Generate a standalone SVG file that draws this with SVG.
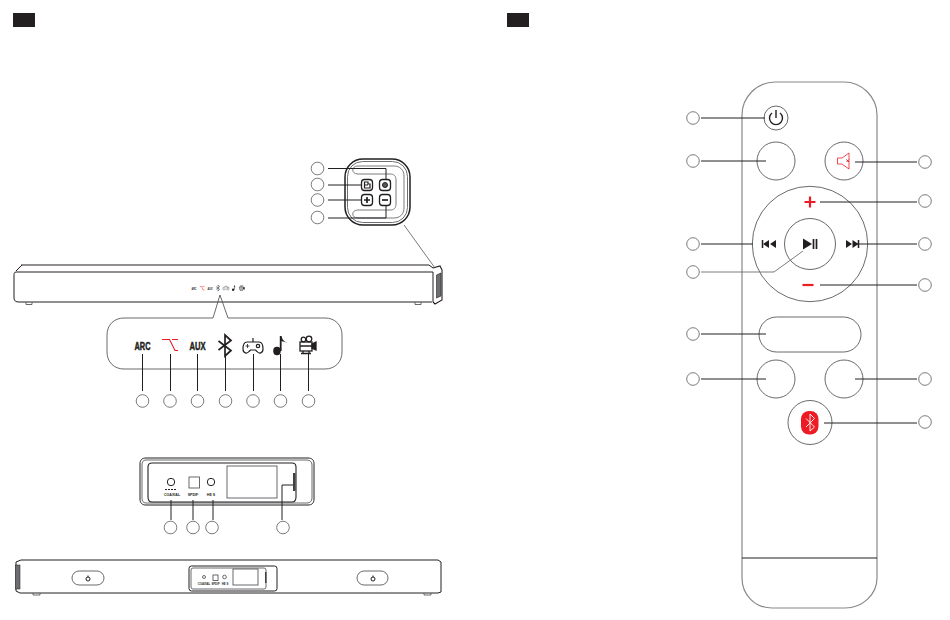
<svg xmlns="http://www.w3.org/2000/svg" xmlns:xlink="http://www.w3.org/1999/xlink" width="950" height="620" viewBox="0 0 950 620">
<style>
.o{fill:none;stroke:#58595b;stroke-width:.9}
.g{fill:none;stroke:#888;stroke-width:1.2}
.k{fill:none;stroke:#231f20;stroke-width:1}
.kk{fill:none;stroke:#231f20;stroke-width:1.1}
.w{fill:#fff;stroke:#231f20;stroke-width:1.3}
.c{fill:#fff;stroke:#58595b;stroke-width:.8}
.l{fill:none;stroke:#231f20;stroke-width:1}
.r{fill:none;stroke:#ed1c24;stroke-width:1.1}
.t{font-family:"Liberation Sans",Arial,sans-serif;font-weight:700;fill:#231f20;text-anchor:middle}
.h{stroke:#231f20;stroke-width:.5}
</style>
<defs>
<path id="bt" d="M-6.500-4.500 6 5 0 10.500V-10.500L6-5-6.500 4.500" fill="none" stroke="#231f20" stroke-width="1.700"/>
<g id="game" fill="none" stroke="#231f20" stroke-width="1.200"><path d="M0-4V-8M-6-4H6C9.500-4 10-.5 10 3 10 7.500 6 8 4 5.500L2.500 4H-2.500L-4 5.500C-6 8-10 7.500-10 3-10-.5-9.500-4-6-4Z"/><path d="M-7.500 0H-3.500M-5.500-2V2" stroke-width=".8"/><circle cx="5" cy="0" r="1.700"/></g>
<g id="note" fill="#231f20"><ellipse cx="-3" cy="6" rx="3.800" ry="4.200"/><path d="M-.2 6V-9H1.600C2.200-5 4-4 7.500-2 5-3 3-3.500 1.600-4V6Z"/></g>
<g id="cam" fill="none" stroke="#231f20" stroke-width="1.300"><circle cx="-4.500" cy="-5.500" r="2.300"/><circle cx="1" cy="-6" r="2.800"/><rect x="-8" y="-3" width="12" height="9"/><path d="M-8 1H4M-5 6V8.500M1 6V8.500M-7 8.500H3"/><path d="M4-1 8-3V5L4 3Z" fill="#231f20"/></g>
</defs>
<rect width="950" height="620" fill="#fff"/>
<rect id="tag-left" x="13" y="13" width="22" height="14" fill="#231f20"/>
<rect id="tag-right" x="507" y="13" width="22" height="14" fill="#231f20"/>

<g id="soundbar-front">
<path class="k" d="M16 272C14 272 14 274 14 276V298C14 301 16 302 19 302H432M22 265 16 271M21 265H429L433 268M16 272H433V302" stroke-width=".9"/>
<path class="o" d="M26 302v2.500h6V302M415 302v2.500h6V302"/>
<path class="kk" d="M433 268 440 266 442 270V300L435 304 433 302"/>
<path d="M436.500 275 441 273V296L436.500 298Z" fill="#6d6e71" stroke="#231f20" stroke-width=".6"/>
<text class="t" x="194" y="289.500" font-size="3.500" textLength="5" lengthAdjust="spacingAndGlyphs">ARC</text>
<path d="M199.800 286.500H201.500L203 290H204.500M202.500 286.500H204.500" fill="none" stroke="#ed1c24" stroke-width=".5"/>
<text class="t" x="210" y="289.500" font-size="3.500" textLength="5" lengthAdjust="spacingAndGlyphs">AUX</text>
<use xlink:href="#bt" transform="translate(218 288) scale(.28)"/>
<use xlink:href="#game" transform="translate(226 288) scale(.3)"/>
<use xlink:href="#note" transform="translate(234 288) scale(.3)"/>
<use xlink:href="#cam" transform="translate(242 288) scale(.3)"/>
</g>

<g id="side-panel">
<rect x="345" y="159" width="65" height="66" rx="18" fill="#fff" stroke="#231f20" stroke-width="1.500"/>
<rect x="347.500" y="161.500" width="60" height="61" rx="15" fill="none" stroke="#6d6e71" stroke-width="1"/>
<path d="M358 166H394C400 166 404 170 404 176V208C404 214 400 218 394 218H358C351 218 351 210 358 210H390C394 210 396 208 396 204V180C396 176 394 174 390 174H358C351 174 351 166 358 166Z" fill="none" stroke="#6d6e71" stroke-width=".9"/>
</g>
<g id="btn-source"><rect class="w" x="361.500" y="179.500" width="11" height="11" rx="3"/><path d="M364.500 182H368V184H370V188H364.500ZM364.500 185H368" fill="none" stroke="#231f20" stroke-width="1.200"/></g>
<g id="btn-power"><rect class="w" x="379.500" y="179.500" width="11" height="11" rx="3"/><circle cx="385" cy="185" r="2.500" fill="#58595b" stroke="#231f20"/></g>
<g id="btn-plus"><rect class="w" x="361.500" y="194.500" width="11" height="11" rx="3"/><path d="M364 200H370M367 197V203" stroke="#231f20" stroke-width="1.700"/></g>
<g id="btn-minus"><rect class="w" x="379.500" y="194.500" width="11" height="11" rx="3"/><path d="M382 200H388" stroke="#231f20" stroke-width="1.700"/></g>

<g id="indicator-panel">
<path class="o" d="M213 318H124C114 318 107 325 107 335V352C107 362 114 369 124 369H325C335 369 342 362 342 352V335C342 325 335 318 325 318H228L220 295Z"/>
<text class="t h" x="142.500" y="350" font-size="11" textLength="16" lengthAdjust="spacingAndGlyphs">ARC</text>
<path class="r" d="M162 339.500H169.500L175 350.500H178M172 339.500H178"/>
<text class="t h" x="197.500" y="350" font-size="11" textLength="16" lengthAdjust="spacingAndGlyphs">AUX</text>
<use xlink:href="#bt" transform="translate(225 345.500) scale(1)"/>
<use xlink:href="#game" transform="translate(253 346)"/>
<use xlink:href="#note" transform="translate(280 345)"/>
<use xlink:href="#cam" transform="translate(308 345)"/>
</g>

<g id="rear-detail">
<path class="k" d="M146 458H308C312 458 314 460 314 464V499C314 503 312 505 308 505H146C142 505 140 503 140 499V464C140 460 142 458 146 458Z"/>
<path class="o" d="M146 460H307C310 460 312 462 312 465V498C312 501 310 503 307 503H146C143 503 142 501 142 498V465C142 462 143 460 146 460Z"/>
<path class="kk" d="M152 463H292C295 463 296 465 296 467V497C296 500 295 502 292 502H152C149 502 148 500 148 497V467C148 465 149 463 152 463Z"/>
<rect class="o" x="227" y="466" width="50" height="32"/>
<circle class="k" cx="171" cy="482" r="3.700"/>
<rect class="o" x="189" y="477" width="10.500" height="11"/>
<circle class="k" cx="211" cy="482" r="3.700"/>
<path d="M165 489.500H177" stroke="#231f20" stroke-dasharray="2 1" stroke-width="1"/>
<text class="t" x="172" y="495.500" font-size="3.600">COAXIAL</text>
<text class="t" x="193" y="495.500" font-size="3.600">SPDIF</text>
<text class="t" x="211" y="495.500" font-size="3.600">HE S</text>
<rect x="293" y="473" width="2.500" height="18" fill="#414042"/>
</g>

<g id="soundbar-rear">
<path class="k" d="M16 562 21 560H438L441 562V592L438 593H20L16 591Z" stroke-width=".9"/>
<rect x="15.500" y="565" width="4.500" height="24" fill="#6d6e71" stroke="#231f20" stroke-width=".5"/>
<path class="o" d="M33 593v2h7v-2M424 593v2h7v-2"/>
<rect class="o" x="72" y="571" width="32" height="14" rx="7"/>
<rect class="o" x="357" y="571" width="31" height="14" rx="7"/>
<circle class="k" cx="88" cy="579" r="2"/><path class="k" d="M88 575.500V577"/>
<circle class="k" cx="373" cy="579" r="2"/><path class="k" d="M373 575.500V577"/>
<rect class="k" x="189" y="566" width="88" height="25" rx="2.500"/>
<rect class="o" x="191" y="568" width="75" height="21" rx="2"/>
<rect class="o" x="233" y="569" width="25" height="16"/>
<circle class="o" cx="204" cy="577" r="1.500"/>
<rect class="o" x="213" y="575" width="5" height="5.500"/>
<circle class="o" cx="224.500" cy="577" r="1.800"/>
<rect x="265" y="572" width="1.500" height="11" fill="#414042"/>
<text class="t" x="204" y="584.500" font-size="2.800">COAXIAL</text>
<text class="t" x="215.500" y="584.500" font-size="2.800">SPDIF</text>
<text class="t" x="225" y="584.500" font-size="2.800">HE S</text>
</g>

<g id="remote">
<path class="g" d="M775 82H844C862 82 877 97 877 115V578C877 595 862 608 845 608H772C755 608 742 595 742 578V115C742 97 757 82 775 82Z"/>
<path d="M742 558H877" stroke="#231f20" stroke-width="1"/>
</g>
<g id="r-power"><circle class="o" cx="776" cy="118" r="12"/><path d="M772 113A6.500 6.500 0 1 0 780 113M776 110V118" fill="none" stroke="#231f20" stroke-width="1.400"/></g>
<g id="r-left-top"><circle class="o" cx="776" cy="161" r="19"/></g>
<g id="r-mute"><circle class="o" cx="844" cy="161" r="19"/><path d="M837.500 158H842L849 153V169L842 164H837.500Z" fill="none" stroke="#ed1c24" stroke-width=".8"/><path d="M846.500 159.500 849 162M849 159.500 846.500 162" stroke="#ed1c24" stroke-width="1"/></g>
<g id="r-wheel"><circle class="o" cx="810" cy="244" r="57.700"/></g>
<g id="r-plus"><path d="M804.500 202H815.500M810 196.500V207.500" stroke="#ed1c24" stroke-width="2.200"/></g>
<g id="r-minus"><path d="M808 285H819" transform="translate(-5.500)" stroke="#ed1c24" stroke-width="2.200"/></g>
<g id="r-prev"><path d="M762.500 240V248" stroke="#231f20" stroke-width="1.500"/><path d="M769 240V248L763 244ZM776 240V248L770 244Z" fill="#231f20"/></g>
<g id="r-next"><path d="M858.500 240V248" stroke="#231f20" stroke-width="1.500"/><path d="M846 240V248L852 244ZM852.500 240V248L858.500 244Z" fill="#231f20"/></g>
<g id="r-play"><circle class="o" cx="810" cy="244" r="25.500"/><path d="M803 238.500V249.500L812 244Z" fill="#231f20"/><path d="M813.500 239V249M816.500 239V249" stroke="#231f20" stroke-width="1.700"/></g>
<g id="r-pill"><rect class="o" x="759" y="317" width="102" height="35" rx="17.500"/></g>
<g id="r-left-bottom"><circle class="o" cx="776" cy="379" r="19"/></g>
<g id="r-right-bottom"><circle class="o" cx="844" cy="379" r="19"/></g>
<g id="r-bt"><circle class="o" cx="810" cy="422.500" r="22"/><rect x="801" y="411" width="17.500" height="23.500" rx="8" fill="#ed1c24"/><path d="M806 418.500 814.500 427 810 431V414L814.500 418.500 806 427" fill="none" stroke="#fff" stroke-width=".9"/></g>

<g id="connectors">
<path class="l" d="M328 168.500H386V180M328 185H361M328 200H361M328 218H386V206"/>
<path d="M404 225 435 268" stroke="#414042" stroke-width=".7" fill="none"/>
<path class="l" d="M142.500 354V391M170.500 354V391M197.500 354V391M225.500 354V391M253.500 354V391M280.500 354V391M308.500 354V391"/>
<path class="l" d="M171 500V520M193 500V520M213 500V520M282 520V485H293"/>
<path class="l" d="M701 118H765M701 161H766M855 162H917M820 202H917M701 244H753M857 244H917M820 285H917M701 334H766M701 379H766M855 379H917M824 423H917"/>
<path d="M701 272H774L803 251" fill="none" stroke="#6d6e71" stroke-width=".9"/>
</g>

<g id="callouts">
<circle class="c" cx="317.500" cy="168.500" r="6.300"/><circle class="c" cx="317.500" cy="184.500" r="6.300"/><circle class="c" cx="317.500" cy="200" r="6.300"/><circle class="c" cx="317.500" cy="217.500" r="6.300"/>
<circle class="c" cx="142.500" cy="401" r="6.300"/><circle class="c" cx="170" cy="401" r="6.300"/><circle class="c" cx="197.500" cy="401" r="6.300"/><circle class="c" cx="225.500" cy="401" r="6.300"/><circle class="c" cx="253" cy="401" r="6.300"/><circle class="c" cx="280.500" cy="401" r="6.300"/><circle class="c" cx="308.500" cy="401" r="6.300"/>
<circle class="c" cx="170.500" cy="527.500" r="6.300"/><circle class="c" cx="193" cy="527.500" r="6.300"/><circle class="c" cx="212" cy="527.500" r="6.300"/><circle class="c" cx="283" cy="527.500" r="6.300"/>
<circle class="c" cx="693" cy="118" r="6.300"/><circle class="c" cx="693" cy="161" r="6.300"/><circle class="c" cx="693" cy="244" r="6.300"/><circle class="c" cx="693" cy="272" r="6.300"/><circle class="c" cx="693" cy="334" r="6.300"/><circle class="c" cx="693" cy="379" r="6.300"/>
<circle class="c" cx="925" cy="162" r="6.300"/><circle class="c" cx="925" cy="201" r="6.300"/><circle class="c" cx="925" cy="244" r="6.300"/><circle class="c" cx="925" cy="285" r="6.300"/><circle class="c" cx="925" cy="379" r="6.300"/><circle class="c" cx="925" cy="422" r="6.300"/>
</g>
</svg>
